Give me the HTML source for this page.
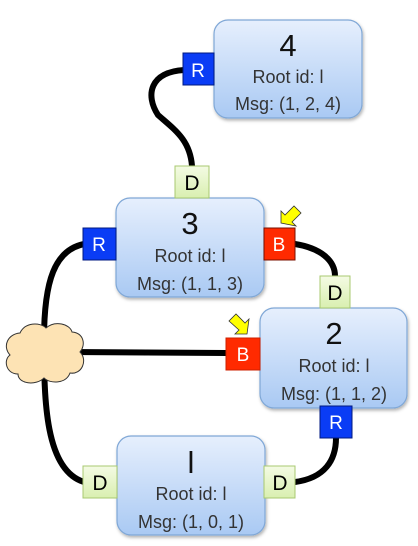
<!DOCTYPE html>
<html><head><meta charset="utf-8"><style>
html,body{margin:0;padding:0;background:#fff;}
svg{display:block;}
text{font-family:"Liberation Sans",sans-serif;}
</style></head><body>
<svg width="418" height="546" viewBox="0 0 418 546" xmlns="http://www.w3.org/2000/svg">
<defs>
<linearGradient id="g" x1="0" y1="0" x2="0" y2="1">
<stop offset="0" stop-color="#e6effd"/><stop offset="1" stop-color="#a9c9f3"/></linearGradient>
<linearGradient id="gd" x1="0" y1="0" x2="0" y2="1">
<stop offset="0" stop-color="#f4fbe4"/><stop offset="1" stop-color="#d9efb0"/></linearGradient>
<filter id="sh" x="-10%" y="-10%" width="130%" height="130%"><feDropShadow dx="1" dy="2" stdDeviation="1.5" flood-opacity="0.3"/></filter>
</defs>
<g fill="none" stroke="#000" stroke-width="6" stroke-linecap="round">
<path d="M184 70 C150 72,145 95,158 115 C175 130,190 140,192 166"/>
<path d="M84 244 C55 250,44 280,44 340 C44 400,45 470,84 482"/>
<path d="M70 352 L226 353"/>
<path d="M295 244 C320 248,335 260,335 276"/>
<path d="M336 438 C336 460,325 478,295 482"/>
</g>
<path d="M20 333 C25 322,40 322,46 328 C55 320,70 324,72 332 C84 333,86 345,80 352 C88 360,82 375,70 373 C66 384,50 384,44 378 C36 386,18 384,18 374 C6 374,3 360,10 355 C2 346,8 334,20 333 Z" fill="#fde3b4" stroke="#333" stroke-width="1"/>
<g filter="url(#sh)" stroke="#7fa7d6" stroke-width="1.2" fill="url(#g)">
<rect x="214" y="20" width="148" height="98" rx="14"/>
<rect x="116" y="198" width="148" height="99" rx="14"/>
<rect x="260" y="308" width="147" height="100" rx="14"/>
<rect x="117" y="436" width="148" height="99" rx="14"/>
</g>
<g text-anchor="middle" fill="#111">
<text x="288" y="56" font-size="31">4</text>
<text x="288" y="83" font-size="18" fill="#333">Root id: l</text>
<text x="288" y="110" font-size="18" fill="#333">Msg: (1, 2, 4)</text>
<text x="190" y="234" font-size="31">3</text>
<text x="190" y="262" font-size="18" fill="#333">Root id: l</text>
<text x="190" y="290" font-size="18" fill="#333">Msg: (1, 1, 3)</text>
<text x="334" y="344" font-size="31">2</text>
<text x="334" y="372" font-size="18" fill="#333">Root id: l</text>
<text x="334" y="400" font-size="18" fill="#333">Msg: (1, 1, 2)</text>
<text x="191" y="473" font-size="31">l</text>
<text x="191" y="500" font-size="18" fill="#333">Root id: l</text>
<text x="191" y="528" font-size="18" fill="#333">Msg: (1, 0, 1)</text>
</g>
<g stroke-width="1">
<rect x="183" y="53" width="31" height="32" fill="#0a3cf5" stroke="#001a80"/>
<rect x="83" y="228" width="33" height="32" fill="#0a3cf5" stroke="#001a80"/>
<rect x="320" y="406" width="32" height="32" fill="#0a3cf5" stroke="#001a80"/>
<rect x="264" y="228" width="31" height="32" fill="#ff2a00" stroke="#7a1000"/>
<rect x="226" y="338" width="34" height="32" fill="#ff2a00" stroke="#cc2000"/>
<rect x="175" y="166" width="34" height="32" fill="url(#gd)" stroke="#a8c870"/>
<rect x="320" y="276" width="30" height="32" fill="url(#gd)" stroke="#a8c870"/>
<rect x="83" y="466" width="34" height="32" fill="url(#gd)" stroke="#a8c870"/>
<rect x="264" y="466" width="31" height="32" fill="url(#gd)" stroke="#a8c870"/>
</g>
<g text-anchor="middle" font-size="19">
<text x="198" y="77" fill="#fff">R</text>
<text x="99" y="251" fill="#fff">R</text>
<text x="336" y="429" fill="#fff">R</text>
<text x="279" y="251" fill="#fff">B</text>
<text x="243" y="361" fill="#fff">B</text>
<text x="192" y="190" fill="#000" font-size="21">D</text>
<text x="335" y="300" fill="#000" font-size="21">D</text>
<text x="100" y="490" fill="#000" font-size="21">D</text>
<text x="280" y="490" fill="#000" font-size="21">D</text>
</g>
<path d="M281 223 L281 211 L285 215 L294 206 L301 213 L292 222 L296 226 Z" fill="#ffff00" stroke="#333" stroke-width="0.8"/>
<path d="M247 334 L235 334 L239 330 L229 321 L236 314 L245 323 L249 319 Z" fill="#ffff00" stroke="#333" stroke-width="0.8"/>
</svg>
</body></html>
